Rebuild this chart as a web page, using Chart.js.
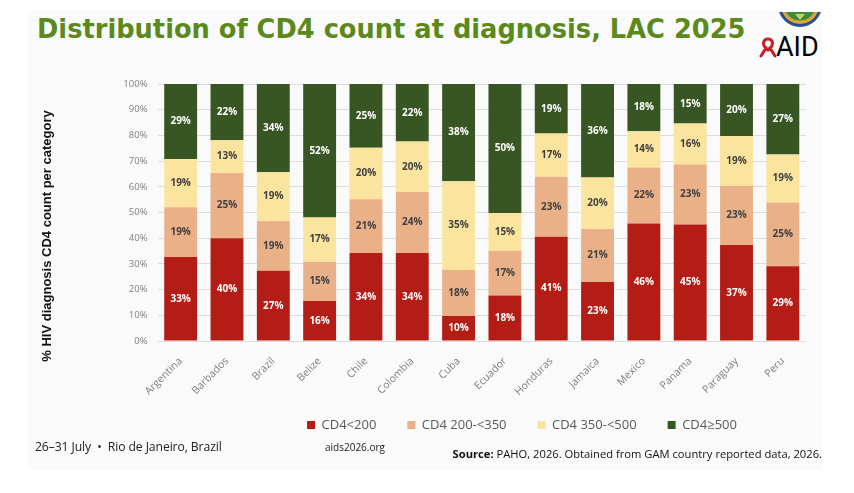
<!DOCTYPE html>
<html>
<head>
<meta charset="utf-8">
<script src="https://cdn.jsdelivr.net/npm/chart.js@4.4.1/dist/chart.umd.min.js"></script>
<style>
  body { margin: 0; width: 854px; height: 493px; background: #fff; position: relative; overflow: hidden; font-family: "Open Sans", sans-serif; }
  #slide { position: absolute; left: 28px; top: 10px; width: 794px; height: 460px; background: #fafafa; }
  #title { position: absolute; left: 37px; top: 15px; font: bold 27px "DejaVu Sans", sans-serif; line-height: 27px; color: #5c891c; white-space: nowrap; transform-origin: 0 0; }
  #cv { position: absolute; left: 0; top: 0; }
  #ytitle { position: absolute; left: -103px; top: 228px; width: 300px; text-align: center; font: bold 13px "Liberation Sans", sans-serif; line-height: 16px; color: #111; transform: rotate(-90deg); white-space: nowrap; }
  .foot { position: absolute; white-space: nowrap; color: #222; }
  #dates { left: 35px; top: 438px; font-size: 12.2px; letter-spacing: -0.1px; }
  #site { left: 325px; top: 440px; font-size: 10px; }
  #source { right: 32px; top: 446px; font-size: 11.2px; color: #111; }
  #aid { position: absolute; left: 776px; top: 34px; font: 27px Roboto, sans-serif; line-height: 27px; color: #000; }
  #ribbon { position: absolute; left: 759px; top: 37px; }
  #seal { position: absolute; left: 777px; top: 12px; }
</style>
</head>
<body>
<div id="slide"></div>
<div id="title">Distribution of CD4 count at diagnosis, LAC 2025</div>
<svg id="seal" width="46" height="16" viewBox="0 0 46 16">
  <circle cx="23" cy="-7" r="22" fill="#2a4f8f"/>
  <circle cx="23" cy="-7" r="19" fill="#d9a53a"/>
  <circle cx="23" cy="-7" r="15.5" fill="#3f8a3a"/>
  <path d="M18 2 L28 2 L23 8 Z" fill="#b7d66b"/>
</svg>
<svg id="ribbon" width="18" height="21" viewBox="0 0 18 21">
  <path d="M9 2 C4 2 3 8 7 11 L2 19 M9 2 C14 2 15 8 11 11 L16 19 M7 11 L9 13 L11 11" fill="none" stroke="#c8202a" stroke-width="3" stroke-linecap="round"/>
</svg>
<div id="aid">AID</div>
<canvas id="cv" width="854" height="493"></canvas>
<div id="ytitle">% HIV diagnosis CD4 count per category</div>
<div class="foot" id="dates">26–31 July &nbsp;•&nbsp; Rio de Janeiro, Brazil</div>
<div class="foot" id="site">aids2026.org</div>
<div class="foot" id="source"><b>Source:</b> PAHO, 2026. Obtained from GAM country reported data, 2026.</div>
<script>
// categories and series (share of diagnoses, %)
var countries = ['Argentina', 'Barbados', 'Brazil', 'Belize', 'Chile', 'Colombia', 'Cuba',
  'Ecuador', 'Honduras', 'Jamaica', 'Mexico', 'Panama', 'Paraguay', 'Peru'];
var seriesNames = ['CD4<200', 'CD4 200-<350', 'CD4 350-<500', 'CD4≥500'];
var cd4Under200 = [32.7, 40.0, 27.3, 15.6, 34.2, 34.2, 9.7, 17.7, 40.6, 23.0, 45.7, 45.3, 37.4, 29.1];
var cd4From200  = [19.3, 25.4, 19.4, 15.2, 21.0, 23.8, 17.9, 17.4, 23.3, 20.6, 21.8, 23.4, 23.0, 24.8];
var cd4From350  = [18.8, 12.7, 19.0, 17.3, 20.0, 19.6, 34.6, 14.7, 16.8, 20.0, 14.1, 15.9, 19.4, 18.7];
var cd4Over500  = [29.2, 21.9, 34.3, 51.9, 24.8, 22.4, 37.8, 50.2, 19.3, 36.4, 18.4, 15.4, 20.2, 27.4];

// squeeze the title to the slide width
var title = document.getElementById('title');
title.style.transform = 'scaleX(' + (708 / title.offsetWidth) + ')';

// percent labels in the middle of every segment
var segmentLabelPlugin = {
  id: 'segmentLabels',
  afterDatasetsDraw: function (chart) {
    var ctx = chart.ctx;
    ctx.save();
    ctx.font = 'bold 10px "Open Sans"';
    ctx.textAlign = 'center';
    ctx.textBaseline = 'middle';
    chart.data.datasets.forEach(function (dataset, i) {
      var meta = chart.getDatasetMeta(i);
      if (meta.hidden) return;
      ctx.fillStyle = dataset.labelColor;
      meta.data.forEach(function (bar, index) {
        ctx.fillText(Math.round(dataset.data[index]) + '%', bar.x, (bar.y + bar.base) / 2);
      });
    });
    ctx.restore();
  }
};

// legend sits right of the page centre and a bit higher in the original
var legendShiftPlugin = {
  id: 'legendShift',
  afterLayout: function (chart) {
    var lg = chart.legend;
    var dx = 522 - (lg.left + lg.right) / 2;
    var dy = -15.5;
    lg.left += dx;
    lg.right += dx;
    lg.top += dy;
    lg.bottom += dy;
  }
};

var chart = new Chart(document.getElementById('cv'), {
  type: 'bar',
  data: {
    labels: countries,
    datasets: [
      { label: seriesNames[0], data: cd4Under200, backgroundColor: '#b41d15', labelColor: '#ffffff' },
      { label: seriesNames[1], data: cd4From200, backgroundColor: '#eab088', labelColor: '#404040' },
      { label: seriesNames[2], data: cd4From350, backgroundColor: '#fbe49e', labelColor: '#404040' },
      { label: seriesNames[3], data: cd4Over500, backgroundColor: '#385623', labelColor: '#ffffff' }
    ]
  },
  options: {
    responsive: false,
    animation: false,
    barPercentage: 0.71,
    categoryPercentage: 1,
    layout: { padding: { left: 0, top: 84, right: 48, bottom: 36 } },
    plugins: {
      legend: {
        position: 'bottom',
        labels: { boxWidth: 8, boxHeight: 8, padding: 31, color: '#595959', font: { family: 'Open Sans', size: 13 } }
      },
      tooltip: { enabled: false }
    },
    scales: {
      x: {
        stacked: true,
        grid: { display: false },
        border: { display: false },
        ticks: { color: '#7f7f7f', font: { family: 'Open Sans', size: 10.5 }, minRotation: 45, maxRotation: 45, padding: 6 },
        afterFit: function (scale) { scale.height = 62; }
      },
      y: {
        stacked: true,
        min: 0,
        max: 100,
        grid: { color: '#dcdcdc', drawTicks: false },
        border: { display: false },
        ticks: {
          stepSize: 10, padding: 10, color: '#7f7f7f', font: { family: 'Open Sans', size: 9.5 },
          callback: function (v) { return v + '%'; }
        },
        afterFit: function (scale) { scale.width = 157.5; }
      }
    }
  },
  plugins: [segmentLabelPlugin, legendShiftPlugin]
});
</script>
</body>
</html>
